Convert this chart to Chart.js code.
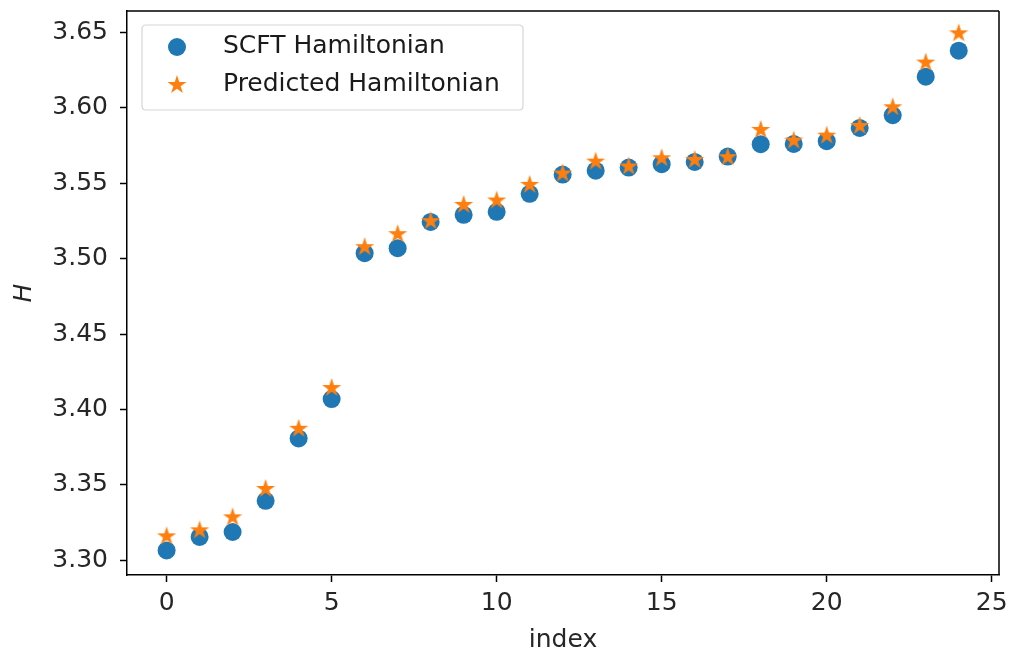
<!DOCTYPE html>
<html>
<head>
<meta charset="utf-8">
<script src="https://cdn.jsdelivr.net/npm/chart.js@4/dist/chart.umd.min.js"></script>
<style>
  html, body { margin: 0; padding: 0; background: #ffffff; }
  #wrap { width: 1012px; height: 658px; }
</style>
</head>
<body>
<div id="wrap"><canvas id="c" width="1012" height="658"></canvas></div>
<script>
const indices = [0,1,2,3,4,5,6,7,8,9,10,11,12,13,14,15,16,17,18,19,20,21,22,23,24];
const scftH = [3.3066,3.3155,3.3188,3.3395,3.3808,3.4069,3.5036,3.5069,3.5243,3.5290,3.5310,3.5429,3.5557,3.5583,3.5603,3.5626,3.5641,3.5676,3.5758,3.5760,3.5778,3.5866,3.5950,3.6206,3.6378];
const predictedH = [3.3159,3.3199,3.3285,3.3473,3.3872,3.4142,3.5076,3.5162,3.5248,3.5356,3.5385,3.5489,3.5564,3.5643,3.5610,3.5665,3.5654,3.5672,3.5853,3.5782,3.5815,3.5879,3.6003,3.6299,3.6493];
const xTicks = [0,5,10,15,20,25];
const yTicks = [3.30,3.35,3.40,3.45,3.50,3.55,3.60,3.65];
const seriesLabels = ['SCFT Hamiltonian','Predicted Hamiltonian'];

const BLUE = '#1f77b4';
const ORANGE = '#ff7f0e';
const FONT = "'DejaVu Sans', sans-serif";
const FS = 25;

function makeStar(R, color) {
  const size = Math.ceil(2 * R + 2);
  const cv = document.createElement('canvas');
  cv.width = size; cv.height = size;
  const g = cv.getContext('2d');
  const cx = size / 2, cy = size / 2;
  const r = R * 0.381966;
  g.beginPath();
  for (let i = 0; i < 10; i++) {
    const rad = (i % 2 === 0) ? R : r;
    const a = -Math.PI / 2 + i * Math.PI / 5;
    const px = cx + rad * Math.cos(a), py = cy + rad * Math.sin(a);
    if (i === 0) g.moveTo(px, py); else g.lineTo(px, py);
  }
  g.closePath();
  g.fillStyle = color;
  g.fill();
  return cv;
}
const starImg = makeStar(10, ORANGE);

const frameAndLegend = {
  id: 'frameAndLegend',
  afterDatasetsDraw(chart) {
    const ctx = chart.ctx;
    const a = chart.chartArea;
    ctx.save();
    ctx.strokeStyle = '#000';
    ctx.lineWidth = 1.5;
    ctx.beginPath();
    ctx.moveTo(a.left, a.top); ctx.lineTo(a.right, a.top);
    ctx.moveTo(a.right, a.top); ctx.lineTo(a.right, a.bottom);
    ctx.stroke();

    // legend box
    const bx = 142, by = 25, bw = 381, bh = 85, rr = 4;
    ctx.beginPath();
    ctx.moveTo(bx + rr, by);
    ctx.lineTo(bx + bw - rr, by);
    ctx.quadraticCurveTo(bx + bw, by, bx + bw, by + rr);
    ctx.lineTo(bx + bw, by + bh - rr);
    ctx.quadraticCurveTo(bx + bw, by + bh, bx + bw - rr, by + bh);
    ctx.lineTo(bx + rr, by + bh);
    ctx.quadraticCurveTo(bx, by + bh, bx, by + bh - rr);
    ctx.lineTo(bx, by + rr);
    ctx.quadraticCurveTo(bx, by, bx + rr, by);
    ctx.closePath();
    ctx.fillStyle = 'rgba(255,255,255,0.8)';
    ctx.fill();
    ctx.strokeStyle = '#d6d6d6';
    ctx.lineWidth = 1.2;
    ctx.stroke();

    // entries
    ctx.fillStyle = BLUE;
    ctx.beginPath();
    ctx.arc(177, 47, 9, 0, Math.PI * 2);
    ctx.fill();
    ctx.drawImage(starImg, 177 - starImg.width / 2, 85 - starImg.height / 2);

    ctx.fillStyle = '#1a1a1a';
    ctx.font = FS + 'px ' + FONT;
    ctx.textBaseline = 'middle';
    ctx.textAlign = 'left';
    ctx.fillText(chart.data.datasets[0].label, 223, 46);
    ctx.fillText(chart.data.datasets[1].label, 223, 84);
    ctx.restore();
  }
};

const chart = new Chart(document.getElementById('c'), {
  type: 'scatter',
  data: {
    datasets: [
      {
        label: seriesLabels[0],
        data: indices.map((x, i) => ({ x: x, y: scftH[i] })),
        pointStyle: 'circle',
        pointRadius: 9,
        pointHoverRadius: 9,
        backgroundColor: BLUE,
        borderColor: BLUE,
        borderWidth: 0,
        order: 1
      },
      {
        label: seriesLabels[1],
        data: indices.map((x, i) => ({ x: x, y: predictedH[i] })),
        pointStyle: starImg,
        pointRadius: 10,
        pointHoverRadius: 10,
        backgroundColor: ORANGE,
        borderColor: ORANGE,
        borderWidth: 0,
        order: 0
      }
    ]
  },
  options: {
    responsive: false,
    animation: false,
    devicePixelRatio: 1,
    layout: { padding: { top: 11, right: 13, left: 0, bottom: 0 } },
    plugins: {
      legend: { display: false },
      tooltip: { enabled: false }
    },
    scales: {
      x: {
        type: 'linear',
        min: -1.2,
        max: 25.22,
        afterBuildTicks(scale) { scale.ticks = xTicks.map(v => ({ value: v })); },
        afterFit(scale) { scale.height = 83; scale.paddingLeft = 0; scale.paddingRight = 0; },
        ticks: {
          color: '#262626',
          font: { family: FONT, size: FS },
          padding: 6,
          maxRotation: 0,
          autoSkip: false,
          callback: v => String(v)
        },
        grid: {
          display: true,
          drawOnChartArea: false,
          drawTicks: true,
          tickLength: 7,
          tickColor: '#000',
          tickWidth: 1.5
        },
        border: { display: true, color: '#000', width: 1.5 },
        title: {
          display: true,
          text: 'index',
          color: '#262626',
          font: { family: FONT, size: FS },
          padding: { top: 0, bottom: 3 }
        }
      },
      y: {
        type: 'linear',
        min: 3.2903,
        max: 3.6641,
        afterBuildTicks(scale) { scale.ticks = yTicks.map(v => ({ value: v })); },
        afterFit(scale) { scale.width = 127; scale.paddingTop = 0; scale.paddingBottom = 0; },
        ticks: {
          color: '#262626',
          font: { family: FONT, size: FS },
          padding: 12,
          autoSkip: false,
          callback: v => v.toFixed(2)
        },
        grid: {
          display: true,
          drawOnChartArea: false,
          drawTicks: true,
          tickLength: 7,
          tickColor: '#000',
          tickWidth: 1.5
        },
        border: { display: true, color: '#000', width: 1.5 },
        title: {
          display: true,
          text: 'H',
          color: '#262626',
          font: { family: FONT, size: FS, style: 'italic' },
          padding: { top: 9, bottom: 0 }
        }
      }
    }
  },
  plugins: [frameAndLegend]
});
</script>
</body>
</html>
